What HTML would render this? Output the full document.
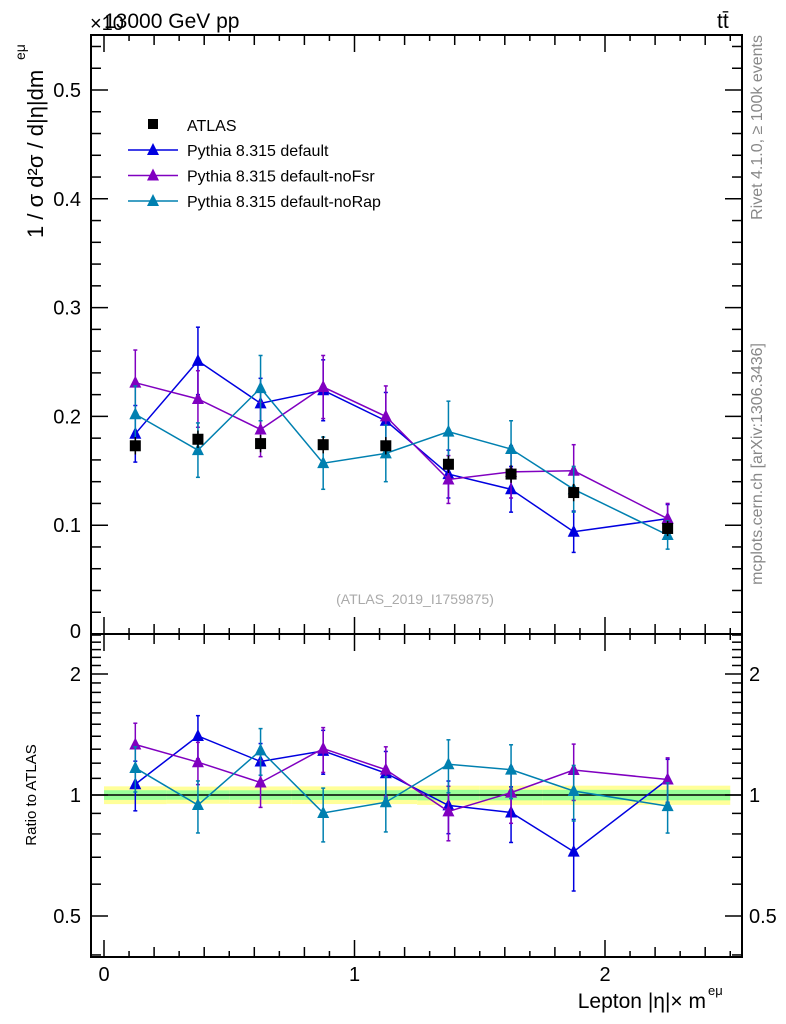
<!DOCTYPE html>
<html><head><meta charset="utf-8"><style>
html,body{margin:0;padding:0;background:#fff;}
svg{display:block;font-family:"Liberation Sans",sans-serif;}
</style></head><body>
<svg id="c" width="786" height="1024" viewBox="0 0 786 1024"></svg>
<script>
const binLo=[0,0.25,0.5,0.75,1.0,1.25,1.5,1.75,2.0];
const binHi=[0.25,0.5,0.75,1.0,1.25,1.5,1.75,2.0,2.5];
const atlasVals=[0.173,0.179,0.175,0.174,0.173,0.156,0.147,0.130,0.097];
const atlasErr=[0.008,0.008,0.008,0.008,0.008,0.008,0.008,0.008,0.007];
const defVals=[0.184,0.251,0.212,0.224,0.196,0.147,0.133,0.094,0.106];
const defErr=[0.026,0.031,0.023,0.028,0.026,0.022,0.021,0.019,0.013];
const fsrVals=[0.231,0.216,0.188,0.227,0.200,0.142,0.149,0.150,0.106];
const fsrErr=[0.030,0.026,0.025,0.029,0.028,0.022,0.024,0.024,0.014];
const rapVals=[0.202,0.169,0.226,0.157,0.166,0.186,0.170,0.133,0.091];
const rapErr=[0.026,0.025,0.030,0.024,0.026,0.028,0.026,0.021,0.013];
const mainTicks=[0.1,0.2,0.3,0.4,0.5];
const xTicks=[0,1,2];
const ratioTicks=[0.5,1,2];

const NS="http://www.w3.org/2000/svg";
const svg=document.getElementById('c');
const L=91,R=742,T=35,MB=634,RB=957;
const X=v=>104+v*250.5;
const Y=v=>634-v*1088;
const RY=v=>795-Math.log2(v)*121;
function el(tag,attrs,parent){const e=document.createElementNS(NS,tag);for(const k in attrs)e.setAttribute(k,attrs[k]);(parent||svg).appendChild(e);return e;}
function txt(s,attrs,name){const e=el('text',attrs);e.textContent=s;return e;}

// ratio band
const band=el('g',{});


for(let i=0;i<binLo.length;i++){
  const rel=atlasErr[i]/atlasVals[i];
  const ry=Math.min(rel*1.1,0.055), rg=Math.min(rel*0.6,0.03);
  el('rect',{x:X(binLo[i]),y:RY(1+ry),width:X(binHi[i])-X(binLo[i]),height:RY(1-ry)-RY(1+ry),fill:'#ffff99'},band);
  el('rect',{x:X(binLo[i]),y:RY(1+rg),width:X(binHi[i])-X(binLo[i]),height:RY(1-rg)-RY(1+rg),fill:'#99ff99'},band);
}
el('line',{x1:L,x2:R,y1:RY(1),y2:RY(1),stroke:'#000','stroke-width':1.5});

// frames
const f1=el('rect',{x:L,y:T,width:R-L,height:MB-T,fill:'none',stroke:'#000','stroke-width':2});

const f2=el('rect',{x:L,y:MB,width:R-L,height:RB-MB,fill:'none',stroke:'#000','stroke-width':2});


// ticks
const tk=el('g',{stroke:'#000','stroke-width':1.5});

for(let k=0;k<=27;k++){const v=k*0.02,y=Y(v);if(y<T)continue;const len=(k%5==0)?17:10;
  el('line',{x1:L,x2:L+len,y1:y,y2:y},tk);el('line',{x1:R,x2:R-len,y1:y,y2:y},tk);}
for(let k=0;k<=25;k++){const v=k*0.1,x=X(v);const len=(k%10==0)?17:(k%2==0?10:6);
  [[T,1],[MB,-1],[MB,1],[RB,-1]].forEach(([y0,d])=>el('line',{x1:x,x2:x,y1:y0,y2:y0+d*len},tk));}
for(let k=4;k<=25;k++){const v=k/10,y=RY(v);if(y<MB||y>RB)continue;const len=(v==0.5||v==1||v==2)?17:10;
  el('line',{x1:L,x2:L+len,y1:y,y2:y},tk);el('line',{x1:R,x2:R-len,y1:y,y2:y},tk);}

// tick labels
mainTicks.forEach(v=>txt(v.toFixed(1),{x:L-10,y:Y(v)+7,'text-anchor':'end','font-size':20},'y-tick-label'));
txt('0',{x:L-10,y:MB+4,'text-anchor':'end','font-size':20},'y-tick-label');
xTicks.forEach(v=>txt(String(v),{x:X(v),y:RB+24,'text-anchor':'middle','font-size':20},'x-tick-label'));
ratioTicks.forEach(v=>{txt(String(v),{x:L-10,y:RY(v)+7,'text-anchor':'end','font-size':20},'ratio-tick-label-left');
  txt(String(v),{x:R+7,y:RY(v)+7,'font-size':20},'ratio-tick-label-right');});

// titles
txt('×10',{x:90,y:30,'font-size':20},'y-axis-multiplier');
txt('13000 GeV pp',{x:104,y:28,'font-size':21},'plot-title');
txt('tt̄',{x:717,y:28,'font-size':21},'process-label');
txt('1 / σ  d²σ / d|η|dm',{x:0,y:0,'font-size':22,transform:'translate(43,238) rotate(-90)'},'y-axis-title');
txt('eμ',{x:0,y:0,'font-size':14,transform:'translate(25,60) rotate(-90)'},'y-axis-title-sup');
txt('Ratio to ATLAS',{x:0,y:0,'font-size':15,'text-anchor':'middle',transform:'translate(36,795) rotate(-90)'},'ratio-axis-title');
txt('Lepton |η|× m',{x:706,y:1008,'font-size':21,'text-anchor':'end'},'x-axis-title');
txt('eμ',{x:708,y:995,'font-size':13},'x-axis-title-sup');
txt('Rivet 4.1.0, ≥ 100k events',{x:0,y:0,'font-size':16,fill:'#888','text-anchor':'end',transform:'translate(762,35) rotate(-90)'},'rivet-label');
txt('mcplots.cern.ch [arXiv:1306.3436]',{x:0,y:0,'font-size':16,fill:'#888','text-anchor':'end',transform:'translate(762,343) rotate(-90)'},'mcplots-label');
txt('(ATLAS_2019_I1759875)',{x:415,y:604,'font-size':14,fill:'#aaa','text-anchor':'middle'},'analysis-id');

// series
const series=[
 {name:'pythia-default',vals:defVals,err:defErr,color:'#0000e0',label:'Pythia 8.315 default'},
 {name:'pythia-nofsr',vals:fsrVals,err:fsrErr,color:'#8000c0',label:'Pythia 8.315 default-noFsr'},
 {name:'pythia-norap',vals:rapVals,err:rapErr,color:'#0080b0',label:'Pythia 8.315 default-noRap'}];
function tri(g,x,y,c){el('polygon',{points:`${x},${y-7} ${x-6},${y+5} ${x+6},${y+5}`,fill:c},g);}
series.forEach(s=>{
  const cen=binLo.map((lo,i)=>(lo+binHi[i])/2);
  const gm=el('g',{});
  const gr=el('g',{});
  el('polyline',{points:cen.map((c,i)=>X(c)+','+Y(s.vals[i])).join(' '),fill:'none',stroke:s.color,'stroke-width':1.5},gm);
  el('polyline',{points:cen.map((c,i)=>X(c)+','+RY(s.vals[i]/atlasVals[i])).join(' '),fill:'none',stroke:s.color,'stroke-width':1.5},gr);
  cen.forEach((c,i)=>{const x=X(c);
    const y1=Y(s.vals[i]+s.err[i]),y2=Y(s.vals[i]-s.err[i]);
    el('line',{x1:x,x2:x,y1:y1,y2:y2,stroke:s.color,'stroke-width':1.5},gm);
    el('line',{x1:x-2,x2:x+2,y1:y1,y2:y1,stroke:s.color,'stroke-width':1.5},gm);
    el('line',{x1:x-2,x2:x+2,y1:y2,y2:y2,stroke:s.color,'stroke-width':1.5},gm);
    tri(gm,x,Y(s.vals[i]),s.color);
    const r=s.vals[i]/atlasVals[i],re=s.err[i]/atlasVals[i];
    const ry1=RY(r+re),ry2=RY(Math.max(r-re,0.3));
    el('line',{x1:x,x2:x,y1:ry1,y2:Math.min(ry2,RB),stroke:s.color,'stroke-width':1.5},gr);
    el('line',{x1:x-2,x2:x+2,y1:ry1,y2:ry1,stroke:s.color,'stroke-width':1.5},gr);
    if(ry2<RB)el('line',{x1:x-2,x2:x+2,y1:ry2,y2:ry2,stroke:s.color,'stroke-width':1.5},gr);
    tri(gr,x,RY(r),s.color);
  });
});
// ATLAS data
const ga=el('g',{});
atlasVals.forEach((v,i)=>{const x=X((binLo[i]+binHi[i])/2);
  el('line',{x1:x,x2:x,y1:Y(v+atlasErr[i]),y2:Y(v-atlasErr[i]),stroke:'#000','stroke-width':1.5},ga);
  el('rect',{x:x-5.5,y:Y(v)-5.5,width:11,height:11,fill:'#000'},ga);});

// legend
const lg=el('g',{});
el('rect',{x:148,y:119,width:10,height:10,fill:'#000'},lg);
txt('ATLAS',{x:187,y:131,'font-size':16},'legend-entry-atlas');
series.forEach((s,k)=>{const y=150+k*25.5;
  el('line',{x1:128,x2:178,y1:y,y2:y,stroke:s.color,'stroke-width':1.5},lg);
  tri(lg,153,y,s.color);
  txt(s.label,{x:187,y:y+6,'font-size':16},'legend-entry-'+s.name);});
</script>
</body></html>
